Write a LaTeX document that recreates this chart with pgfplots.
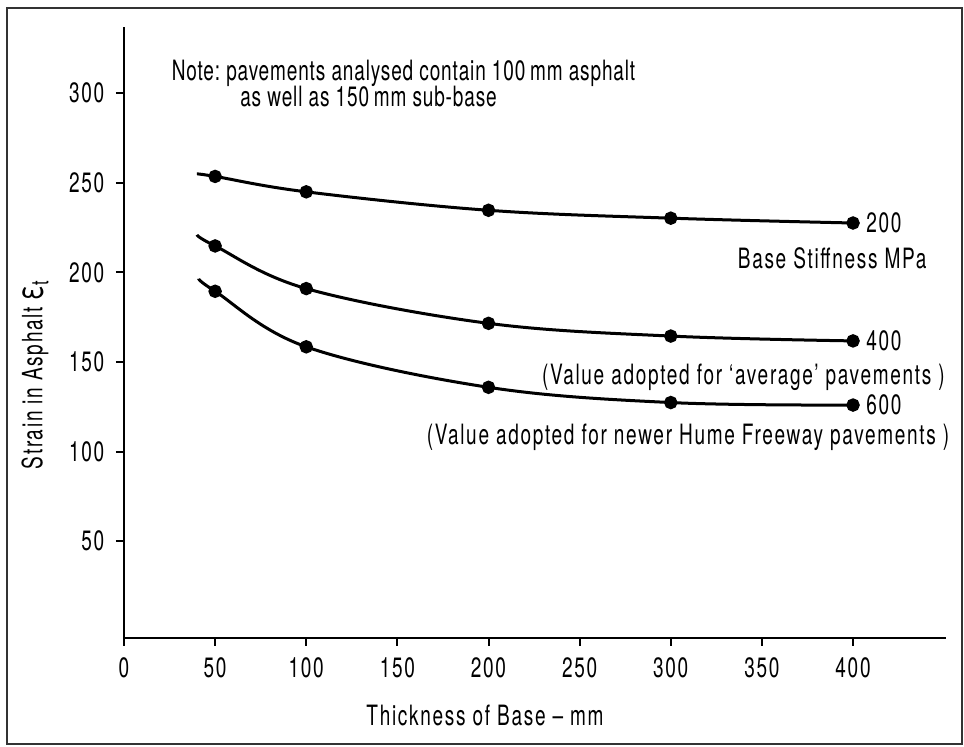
\documentclass[border=0pt]{standalone}
\usepackage{pgfplots}
\pgfplotsset{compat=1.18}
\usepackage{fontspec}
\setmainfont{TeX Gyre Heros}[FakeStretch=0.68,LetterSpace=6]

\begin{document}
\fontsize{14}{14}\selectfont
\begin{tikzpicture}
\begin{axis}[
  scale only axis,
  width=411pt,height=305.5pt,
  xmin=0,xmax=451,ymin=-4,ymax=337,
  axis lines=left,
  axis line style={line width=1pt,-},
  xtick={0,50,...,400},ytick={50,100,...,300},
  tick align=outside,major tick length=4pt,
  tick style={line width=1pt,black},
  tick label style={font=\fontsize{14}{14}\selectfont},
  /pgf/number format/assume math mode=true,
  xticklabel style={yshift=-1pt},
  yticklabel style={xshift=-1pt},
  clip=false,
  every axis plot/.append style={line width=1.5pt,black},
]
\coordinate (O) at (rel axis cs:0,0);
% base stiffness 200 MPa
\addplot[smooth,tension=0.6] coordinates {(40,255) (50,253.6) (100,245) (200,234.7) (300,230.3) (400,227.6)};
\addplot[only marks,mark=*,mark size=2.6pt] coordinates {(50,253.6) (100,245) (200,234.7) (300,230.3) (400,227.6)};
% 400 MPa
\addplot[smooth,tension=0.6] coordinates {(40,221) (50,214.8) (100,191) (200,171.6) (300,164.5) (400,161.8)};
\addplot[only marks,mark=*,mark size=2.6pt] coordinates {(50,214.8) (100,191) (200,171.6) (300,164.5) (400,161.8)};
% 600 MPa
\addplot[smooth,tension=0.6] coordinates {(41,196.5) (50,189.5) (100,158.5) (200,135.9) (300,127.4) (400,126)};
\addplot[only marks,mark=*,mark size=2.6pt] coordinates {(50,189.5) (100,158.5) (200,135.9) (300,127.4) (400,126)};

\node[anchor=north west,inner sep=0pt,align=left] at (axis cs:26,319)
  {\addfontfeature{LetterSpace=3}\begin{tabular}{@{}l@{\ }l@{}}Note:&pavements analysed contain 100\,mm asphalt\\[-1pt]&\hspace{7pt}as well as 150\,mm sub-base\end{tabular}};
\node[anchor=west] at (axis cs:402,227.6) {200};
\node[anchor=east,inner sep=0pt] at (axis cs:440.5,208) {Base Stiffness MPa};
\node[anchor=west] at (axis cs:402,161.8) {400};
\node[anchor=east,inner sep=0pt] at (axis cs:450.5,141.6) {(Value adopted for ‘average’ pavements )};
\node[anchor=west] at (axis cs:402,126) {600};
\node[anchor=east,inner sep=0pt] at (axis cs:453,108) {(Value adopted for newer Hume Freeway pavements )};
\end{axis}
% axis labels
\node[rotate=90] at ([shift={(-44.5pt,131.5pt)}]O) {Strain in Asphalt {\fontsize{18}{18}\selectfont ε}\raisebox{-3pt}{\fontsize{12}{12}\selectfont t}};
\node at ([shift={(180.5pt,-38.5pt)}]O) {Thickness of Base -- mm};
% frame
\draw[line width=0.8pt,black!80] ([shift={(-58.5pt,-53pt)}]O) rectangle ([shift={(419pt,315pt)}]O);
\useasboundingbox ([shift={(-62pt,-54.5pt)}]O) rectangle ([shift={(420pt,319pt)}]O);
\end{tikzpicture}
\end{document}
